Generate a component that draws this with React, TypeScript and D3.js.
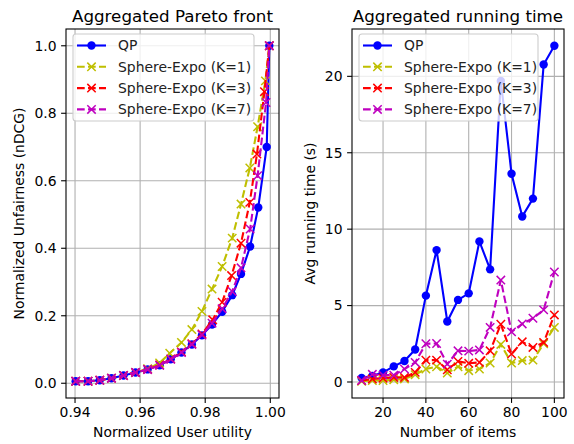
import React, { useEffect, useRef } from 'react';
import * as d3 from 'd3';

// ---- Pareto front data (normalized user utility, normalized unfairness)
const qpUtility = [0.9402, 0.944, 0.9476, 0.9512, 0.9549, 0.9586, 0.9623, 0.966, 0.9694, 0.9727, 0.9759, 0.979, 0.9821, 0.9852, 0.9883, 0.991, 0.9938, 0.9963, 0.9989, 0.9997];
const qpUnfair = [0.006, 0.006, 0.009, 0.015, 0.023, 0.032, 0.041, 0.053, 0.071, 0.091, 0.115, 0.142, 0.174, 0.212, 0.261, 0.324, 0.405, 0.521, 0.7, 1.0];

const k1Utility = [0.9402, 0.944, 0.9476, 0.9512, 0.9549, 0.9586, 0.9623, 0.966, 0.9691, 0.9727, 0.9759, 0.979, 0.9821, 0.9852, 0.9883, 0.991, 0.9937, 0.9961, 0.9985, 0.9997];
const k1Unfair = [0.006, 0.006, 0.009, 0.015, 0.023, 0.032, 0.043, 0.06, 0.089, 0.121, 0.159, 0.213, 0.279, 0.346, 0.43, 0.531, 0.638, 0.76, 0.896, 1.0];

const k3Utility = [0.9402, 0.944, 0.9476, 0.9512, 0.9549, 0.9586, 0.9623, 0.966, 0.9694, 0.9727, 0.9759, 0.979, 0.9823, 0.9852, 0.9881, 0.991, 0.9937, 0.9959, 0.9982, 0.9997];
const k3Unfair = [0.006, 0.006, 0.009, 0.015, 0.023, 0.032, 0.041, 0.054, 0.072, 0.093, 0.117, 0.146, 0.188, 0.24, 0.319, 0.415, 0.536, 0.679, 0.864, 1.0];

const k7Utility = [0.9402, 0.944, 0.9476, 0.9512, 0.9549, 0.9586, 0.9623, 0.966, 0.9694, 0.9727, 0.9759, 0.979, 0.9821, 0.9852, 0.9883, 0.991, 0.9938, 0.9961, 0.9987, 0.9997];
const k7Unfair = [0.006, 0.006, 0.009, 0.015, 0.023, 0.032, 0.041, 0.053, 0.071, 0.091, 0.115, 0.143, 0.178, 0.221, 0.272, 0.342, 0.457, 0.615, 0.832, 1.0];

// ---- running time data
const nItems = [10, 15, 20, 25, 30, 35, 40, 45, 50, 55, 60, 65, 70, 75, 80, 85, 90, 95, 100];
const qpTime = [0.26, 0.4, 0.63, 1.02, 1.37, 2.13, 5.65, 8.63, 3.96, 5.37, 5.8, 9.2, 7.37, 19.7, 13.63, 10.83, 12.0, 20.77, 22.0];
const k1Time = [0.05, 0.1, 0.1, 0.15, 0.2, 0.48, 0.85, 1.0, 0.59, 1.0, 0.74, 0.85, 1.24, 2.46, 1.24, 1.4, 1.43, 2.5, 3.57];
const k3Time = [0.1, 0.2, 0.25, 0.3, 0.3, 0.63, 1.43, 1.43, 0.8, 1.35, 1.22, 1.28, 2.04, 3.78, 1.83, 2.63, 2.26, 2.59, 4.39];
const k7Time = [0.1, 0.5, 0.45, 0.45, 0.85, 1.28, 2.5, 2.52, 1.17, 2.04, 2.02, 2.1, 3.57, 6.67, 3.28, 3.8, 4.17, 4.72, 7.2];

const seriesNames = ['QP', 'Sphere-Expo (K=1)', 'Sphere-Expo (K=3)', 'Sphere-Expo (K=7)'];
const seriesColors = ['#0000ff', '#bfbf00', '#ff0000', '#bf00bf'];

const paretoTicksX = [0.94, 0.96, 0.98, 1.0];
const paretoTicksY = [0.0, 0.2, 0.4, 0.6, 0.8, 1.0];
const timeTicksX = [20, 40, 60, 80, 100];
const timeTicksY = [0, 5, 10, 15, 20];

const FONT = 'DejaVu Sans, sans-serif';

type Series = { name: string; color: string; pts: [number, number][] };

function padDomain(vals: number[]): [number, number] {
  const lo = d3.min(vals)!;
  const hi = d3.max(vals)!;
  const m = (hi - lo) * 0.05;
  return [lo - m, hi + m];
}

function drawPanel(svg: any, opts: {
  left: number; right: number; top: number; bottom: number;
  series: Series[]; ticksX: number[]; ticksY: number[];
  fmtX: (d: number) => string; fmtY: (d: number) => string;
  title: string; xlabel: string; ylabel: string; ylabelX: number;
  legendW: number;
}) {
  const { left, right, top, bottom, series } = opts;
  const allX = series.flatMap(s => s.pts.map(p => p[0]));
  const allY = series.flatMap(s => s.pts.map(p => p[1]));
  const x = d3.scaleLinear().domain(padDomain(allX)).range([left, right]);
  const y = d3.scaleLinear().domain(padDomain(allY)).range([bottom, top]);

  const g = svg.append('g');

  // grid
  g.selectAll('.gx').data(opts.ticksX).enter().append('line')
    .attr('x1', (d: number) => x(d)).attr('x2', (d: number) => x(d))
    .attr('y1', top).attr('y2', bottom)
    .attr('stroke', '#b0b0b0').attr('stroke-width', 1.1);
  g.selectAll('.gy').data(opts.ticksY).enter().append('line')
    .attr('y1', (d: number) => y(d)).attr('y2', (d: number) => y(d))
    .attr('x1', left).attr('x2', right)
    .attr('stroke', '#b0b0b0').attr('stroke-width', 1.1);

  const clipId = 'clip' + Math.round(left);
  svg.append('clipPath').attr('id', clipId).append('rect')
    .attr('x', left).attr('y', top).attr('width', right - left).attr('height', bottom - top);

  const plot = g.append('g').attr('clip-path', `url(#${clipId})`);
  const line = d3.line<[number, number]>().x(d => x(d[0])).y(d => y(d[1]));

  series.forEach((s, i) => {
    plot.append('path').datum(s.pts)
      .attr('d', line)
      .attr('fill', 'none')
      .attr('stroke', s.color)
      .attr('stroke-width', 2.1)
      .attr('stroke-dasharray', i === 0 ? null : '7.7,3.3');
    if (i === 0) {
      plot.selectAll(null).data(s.pts).enter().append('circle')
        .attr('cx', (d: [number, number]) => x(d[0]))
        .attr('cy', (d: [number, number]) => y(d[1]))
        .attr('r', 4.2).attr('fill', s.color);
    } else {
      const r = 4.2;
      plot.selectAll(null).data(s.pts).enter().append('path')
        .attr('d', (d: [number, number]) => {
          const cx = x(d[0]); const cy = y(d[1]);
          return `M${cx - r},${cy - r}L${cx + r},${cy + r}M${cx - r},${cy + r}L${cx + r},${cy - r}`;
        })
        .attr('stroke', s.color).attr('stroke-width', 1.5).attr('fill', 'none');
    }
  });

  // frame
  g.append('rect').attr('x', left).attr('y', top)
    .attr('width', right - left).attr('height', bottom - top)
    .attr('fill', 'none').attr('stroke', '#000').attr('stroke-width', 1.1);

  // ticks
  opts.ticksX.forEach(t => {
    g.append('line').attr('x1', x(t)).attr('x2', x(t)).attr('y1', bottom).attr('y2', bottom + 4.9)
      .attr('stroke', '#000').attr('stroke-width', 1.1);
    g.append('text').attr('x', x(t)).attr('y', bottom + 18.5)
      .attr('text-anchor', 'middle').attr('font-family', FONT).attr('font-size', 13.9)
      .text(opts.fmtX(t));
  });
  opts.ticksY.forEach(t => {
    g.append('line').attr('x1', left - 4.9).attr('x2', left).attr('y1', y(t)).attr('y2', y(t))
      .attr('stroke', '#000').attr('stroke-width', 1.1);
    g.append('text').attr('x', left - 9.5).attr('y', y(t)).attr('dy', '0.35em')
      .attr('text-anchor', 'end').attr('font-family', FONT).attr('font-size', 13.9)
      .text(opts.fmtY(t));
  });

  // labels
  const cx = (left + right) / 2;
  g.append('text').attr('x', cx).attr('y', 22).attr('text-anchor', 'middle')
    .attr('font-family', FONT).attr('font-size', 16.7).text(opts.title);
  g.append('text').attr('x', cx).attr('y', bottom + 39).attr('text-anchor', 'middle')
    .attr('font-family', FONT).attr('font-size', 13.9).text(opts.xlabel);
  g.append('text').attr('transform', `translate(${opts.ylabelX},${(top + bottom) / 2}) rotate(-90)`)
    .attr('text-anchor', 'middle').attr('font-family', FONT).attr('font-size', 13.9).text(opts.ylabel);

  // legend
  const lx = left + 7;
  const ly = top + 5;
  const lg = g.append('g');
  lg.append('rect').attr('x', lx).attr('y', ly).attr('width', opts.legendW).attr('height', 87)
    .attr('rx', 3).attr('fill', 'rgba(255,255,255,0.8)').attr('stroke', '#cccccc').attr('stroke-width', 1.1);
  series.forEach((s, i) => {
    const yy = ly + 11.5 + i * 21.3;
    lg.append('line').attr('x1', lx + 4).attr('x2', lx + 33).attr('y1', yy).attr('y2', yy)
      .attr('stroke', s.color).attr('stroke-width', 2.1)
      .attr('stroke-dasharray', i === 0 ? null : '7.7,3.3');
    const mx = lx + 18.5;
    if (i === 0) {
      lg.append('circle').attr('cx', mx).attr('cy', yy).attr('r', 4.2).attr('fill', s.color);
    } else {
      const r = 4.2;
      lg.append('path').attr('d', `M${mx - r},${yy - r}L${mx + r},${yy + r}M${mx - r},${yy + r}L${mx + r},${yy - r}`)
        .attr('stroke', s.color).attr('stroke-width', 1.5);
    }
    lg.append('text').attr('x', lx + 45).attr('y', yy).attr('dy', '0.35em')
      .attr('font-family', FONT).attr('font-size', 13.9).attr('fill', '#222').text(s.name);
  });
}

const App = () => {
  const ref = useRef<SVGSVGElement>(null);

  useEffect(() => {
    if (!ref.current) return;
    const svg = d3.select(ref.current);
    svg.selectAll('*').remove();

    const zip = (a: number[], b: number[]) => a.map((v, i) => [v, b[i]] as [number, number]);

    const pareto: Series[] = [
      zip(qpUtility, qpUnfair), zip(k1Utility, k1Unfair), zip(k3Utility, k3Unfair), zip(k7Utility, k7Unfair)
    ].map((pts, i) => ({ name: seriesNames[i], color: seriesColors[i], pts }));

    const timing: Series[] = [qpTime, k1Time, k3Time, k7Time]
      .map((vals, i) => ({ name: seriesNames[i], color: seriesColors[i], pts: zip(nItems, vals) }));

    drawPanel(svg, {
      left: 66, right: 279, top: 29, bottom: 398,
      series: pareto, ticksX: paretoTicksX, ticksY: paretoTicksY,
      fmtX: d3.format('.2f'), fmtY: d3.format('.1f'),
      title: 'Aggregated Pareto front', xlabel: 'Normalized User utility',
      ylabel: 'Normalized Unfairness (nDCG)', ylabelX: 24, legendW: 181,
    });

    drawPanel(svg, {
      left: 352, right: 564, top: 29, bottom: 398,
      series: timing, ticksX: timeTicksX, ticksY: timeTicksY,
      fmtX: d3.format('d'), fmtY: d3.format('d'),
      title: 'Aggregated running time', xlabel: 'Number of items',
      ylabel: 'Avg running time (s)', ylabelX: 315, legendW: 179,
    });
  }, []);

  return (
    <svg ref={ref} width={574} height={444}
      style={{ position: 'absolute', left: 0, top: 0, background: '#fff' }} />
  );
};

export default App;
